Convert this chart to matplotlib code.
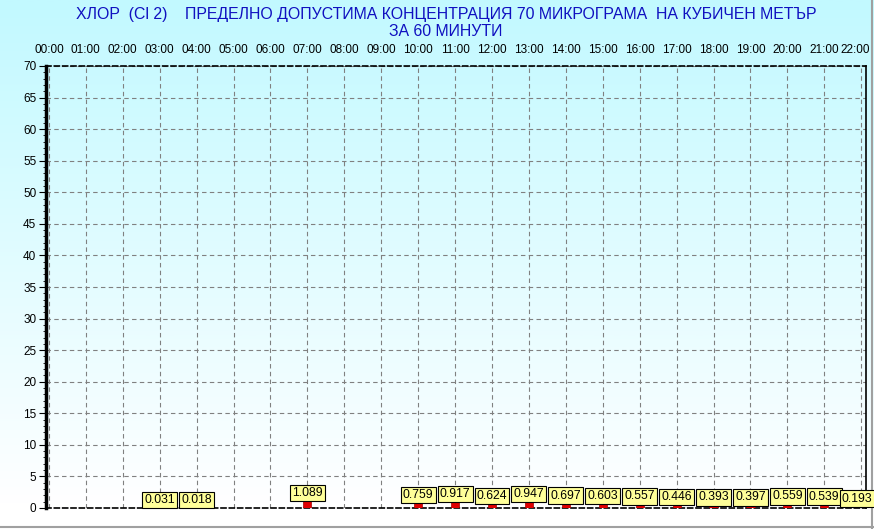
import matplotlib
matplotlib.use("Agg")
import matplotlib.pyplot as plt
import matplotlib.transforms as mtransforms
import numpy as np
from matplotlib.colors import LinearSegmentedColormap

plt.rcParams['font.family'] = ['Liberation Sans', 'DejaVu Sans']

# hourly chlorine readings (hours with no data are left out)
hours = [3, 4, 7, 10, 11, 12, 13, 14, 15, 16, 17, 18, 19, 20, 21, 22]
values = [0.031, 0.018, 1.089, 0.759, 0.917, 0.624, 0.947, 0.697,
          0.603, 0.557, 0.446, 0.393, 0.397, 0.559, 0.539, 0.193]
tick_hours = list(range(0, 23))
tick_labels = [f"{h:02d}:00" for h in tick_hours]
y_ticks = list(range(0, 71, 5))

title1 = "ХЛОР  (Cl 2)    ПРЕДЕЛНО ДОПУСТИМА КОНЦЕНТРАЦИЯ 70 МИКРОГРАМА  НА КУБИЧЕН МЕТЪР"
title2 = "ЗА 60 МИНУТИ"

W, H = 874, 529
fig = plt.figure(figsize=(W / 100, H / 100), dpi=100)

# background gradient: light cyan at top, white at the bottom
bg = fig.add_axes([0, 0, 1, 1], zorder=-10)
cmap = LinearSegmentedColormap.from_list("bg", ["#c2f9ff", "#ffffff"])
grad = np.linspace(0, 1, 512).reshape(-1, 1)
grad = np.clip(grad / (505 / 529), 0, 1)
bg.imshow(grad, aspect="auto", cmap=cmap, extent=[0, 1, 0, 1], origin="upper")
bg.axis("off")
# grey frame lines at right/bottom
bg.plot([1 - 2 / W, 1 - 2 / W], [0, 1], color="#a0a0a0", lw=1.5)
bg.plot([0, 1], [2 / H, 2 / H], color="#a0a0a0", lw=1.5)
bg.set_xlim(0, 1)
bg.set_ylim(0, 1)

ax = fig.add_axes([46 / W, 1 - 508 / H, 820 / W, 442 / H])
ax.patch.set_alpha(0)
ax.set_xlim(-0.08, 22.13)
ax.set_ylim(0, 70)

ax.bar(hours, values, width=0.22, color="#e00000", edgecolor="#a00000", lw=0.5, zorder=3)

for h, v in zip(hours, values):
    dx = -3 if h == 22 else 0
    ax.annotate(f"{v:.3f}", (h, v), xytext=(dx, 1.5), textcoords="offset points",
                ha="center", va="bottom", fontsize=8.8, zorder=5,
                bbox=dict(boxstyle="square,pad=0.18", fc="#ffff99", ec="black", lw=0.8))

ax.set_xticks(tick_hours)
ax.set_xticklabels(tick_labels, fontsize=8.5)
ax.xaxis.tick_top()
ax.tick_params(axis="x", length=0, pad=7)

ax.set_yticks(y_ticks)
ax.set_yticklabels([str(t) for t in y_ticks], fontsize=8.5)
ax.set_yticks(range(0, 71), minor=True)
ax.tick_params(axis="y", which="major", length=5, width=0.8, pad=2)
ax.tick_params(axis="y", which="minor", length=2, width=0.6)

# nudge the last hour label left so it stays inside the figure
last = ax.xaxis.get_major_ticks()[-1].label2
last.set_transform(last.get_transform() + mtransforms.ScaledTranslation(-4 / 72, 0, fig.dpi_scale_trans))

ax.grid(True, which="major", color="#808080", ls=(0, (4, 3)), lw=0.8)
ax.set_axisbelow(True)

ax.spines["left"].set_linewidth(2.5)
ax.spines["right"].set_linewidth(1.2)
for s in ("top", "bottom"):
    ax.spines[s].set_linestyle((0, (3, 2)))
    ax.spines[s].set_linewidth(1.2)

fig.text(446 / W, 1 - 15 / H, title1, ha="center", va="center", fontsize=11.4, color="#1010c0")
fig.text(446 / W, 1 - 31 / H, title2, ha="center", va="center", fontsize=11.4, color="#1010c0")

fig.savefig("out.png", dpi=100)
